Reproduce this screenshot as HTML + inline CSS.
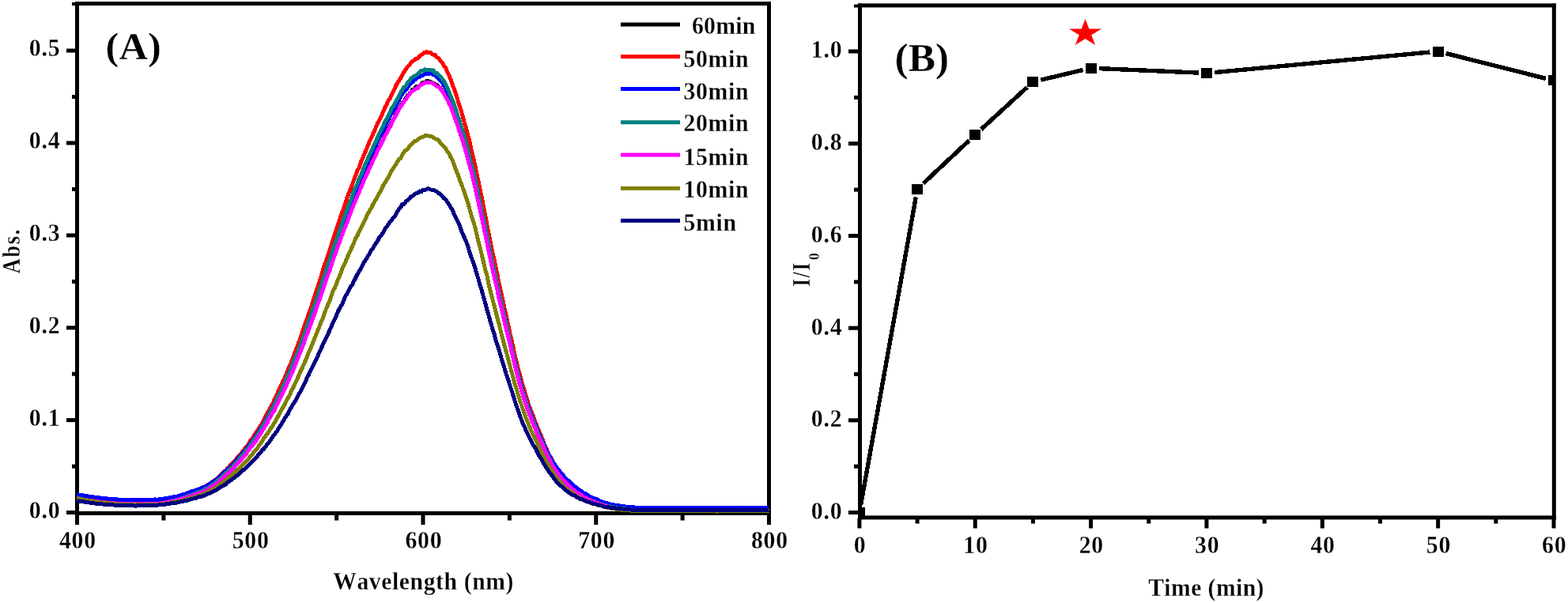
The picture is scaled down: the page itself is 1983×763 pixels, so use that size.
<!DOCTYPE html>
<html lang="en"><head><meta charset="utf-8"><title>Absorbance spectra and time course</title>
<style>
html,body{margin:0;padding:0;background:#fff;}
body{width:1983px;height:763px;overflow:hidden;font-family:'Liberation Serif',serif;}
svg text{font-family:'Liberation Serif',serif;font-kerning:none;stroke:#fff;stroke-width:0.3px;paint-order:fill stroke;}
</style></head>
<body>
<svg width="1983" height="763" viewBox="0 0 1983 763" style="display:block">
<rect x="0" y="0" width="1983" height="763" fill="#ffffff"/>
<g font-family="'Liberation Serif',serif" font-weight="bold" fill="#000">
<g fill="#000">
<rect x="95.00" y="2.10" width="880.00" height="4.90"/>
<rect x="95.00" y="646.90" width="880.00" height="5.00"/>
<rect x="95.00" y="2.10" width="5.00" height="649.80"/>
<rect x="970.00" y="2.10" width="5.00" height="649.80"/>
<rect x="84.00" y="646.00" width="12.00" height="5.00"/>
<rect x="84.00" y="529.11" width="12.00" height="5.00"/>
<rect x="84.00" y="412.22" width="12.00" height="5.00"/>
<rect x="84.00" y="295.33" width="12.00" height="5.00"/>
<rect x="84.00" y="178.44" width="12.00" height="5.00"/>
<rect x="84.00" y="61.55" width="12.00" height="5.00"/>
<rect x="91.00" y="587.55" width="5.00" height="5.00"/>
<rect x="91.00" y="470.66" width="5.00" height="5.00"/>
<rect x="91.00" y="353.77" width="5.00" height="5.00"/>
<rect x="91.00" y="236.88" width="5.00" height="5.00"/>
<rect x="91.00" y="119.99" width="5.00" height="5.00"/>
<rect x="91.00" y="3.00" width="5.00" height="4.00"/>
<rect x="95.00" y="650.00" width="5.00" height="14.00"/>
<rect x="313.75" y="650.00" width="5.00" height="14.00"/>
<rect x="532.50" y="650.00" width="5.00" height="14.00"/>
<rect x="751.25" y="650.00" width="5.00" height="14.00"/>
<rect x="970.00" y="650.00" width="5.00" height="14.00"/>
<rect x="204.38" y="650.00" width="5.00" height="8.50"/>
<rect x="423.12" y="650.00" width="5.00" height="8.50"/>
<rect x="641.88" y="650.00" width="5.00" height="8.50"/>
<rect x="860.62" y="650.00" width="5.00" height="8.50"/>
</g>
<g fill="none" stroke-width="5" stroke-linejoin="round" stroke-linecap="butt" shape-rendering="crispEdges">
<polyline stroke="#000000" points="97.5,630.2 99.7,630.4 101.9,630.9 104.1,631.3 106.2,631.6 108.4,632.1 110.6,632.5 112.8,632.6 115.0,633.3 117.2,633.5 119.4,633.7 121.6,634.0 123.8,634.4 125.9,634.5 128.1,634.8 130.3,634.9 132.5,635.4 134.7,635.5 136.9,635.7 139.1,635.6 141.2,636.3 143.4,636.2 145.6,636.3 147.8,636.8 150.0,636.6 152.2,636.5 154.4,636.7 156.6,636.5 158.8,637.1 160.9,636.9 163.1,636.9 165.3,637.2 167.5,636.8 169.7,637.2 171.9,636.8 174.1,637.0 176.2,636.9 178.4,637.3 180.6,637.3 182.8,637.0 185.0,637.1 187.2,636.9 189.4,636.9 191.6,636.6 193.8,636.3 195.9,636.1 198.1,636.3 200.3,636.4 202.5,635.8 204.7,635.4 206.9,635.6 209.1,635.0 211.2,634.6 213.4,634.2 215.6,633.8 217.8,633.3 220.0,632.6 222.2,632.5 224.4,631.8 226.6,631.5 228.8,630.6 230.9,629.7 233.1,629.3 235.3,629.0 237.5,627.9 239.7,627.1 241.9,626.3 244.1,625.6 246.2,625.0 248.4,624.1 250.6,623.9 252.8,622.7 255.0,621.9 257.2,621.2 259.4,620.2 261.6,618.7 263.8,617.6 265.9,616.4 268.1,614.8 270.3,612.9 272.5,611.9 274.7,610.3 276.9,608.4 279.1,606.3 281.2,604.6 283.4,602.5 285.6,600.6 287.8,599.0 290.0,596.9 292.2,594.5 294.4,592.3 296.6,590.0 298.8,587.5 300.9,585.1 303.1,582.5 305.3,580.2 307.5,578.4 309.7,575.3 311.9,572.3 314.1,569.5 316.2,566.5 318.4,564.0 320.6,561.0 322.8,557.3 325.0,554.7 327.2,551.1 329.4,548.4 331.6,544.5 333.8,541.5 335.9,537.2 338.1,533.5 340.3,529.9 342.5,526.2 344.7,522.0 346.9,517.3 349.1,513.6 351.2,509.3 353.4,504.7 355.6,500.2 357.8,496.5 360.0,491.1 362.2,486.1 364.4,481.9 366.6,476.7 368.8,471.6 370.9,466.8 373.1,461.5 375.3,456.1 377.5,450.9 379.7,445.1 381.9,439.1 384.1,433.5 386.2,427.6 388.4,422.0 390.6,415.5 392.8,409.1 395.0,403.8 397.2,397.0 399.4,390.5 401.6,385.4 403.8,378.6 405.9,372.9 408.1,366.1 410.3,359.5 412.5,353.1 414.7,347.1 416.9,341.0 419.1,334.4 421.2,328.4 423.4,321.6 425.6,316.2 427.8,309.1 430.0,303.9 432.2,298.3 434.4,292.5 436.6,287.0 438.8,279.5 440.9,275.0 443.1,269.6 445.3,263.9 447.5,257.4 449.7,252.8 451.9,248.3 454.1,241.2 456.2,237.2 458.4,232.4 460.6,226.4 462.8,222.2 465.0,216.4 467.2,211.8 469.4,207.0 471.6,202.9 473.8,198.1 475.9,194.1 478.1,188.5 480.3,184.5 482.5,180.7 484.7,176.1 486.9,170.7 489.1,167.5 491.2,162.6 493.4,158.8 495.6,154.5 497.8,150.9 500.0,146.1 502.2,140.9 504.4,137.3 506.6,134.8 508.8,130.6 510.9,128.1 513.1,124.5 515.3,121.0 517.5,119.5 519.7,116.1 521.9,113.2 524.1,113.9 526.2,109.7 528.4,109.7 530.6,108.4 532.8,106.6 535.0,104.2 537.2,105.0 539.4,102.8 541.6,102.6 543.8,103.3 545.9,104.6 548.1,105.2 550.3,106.7 552.5,107.5 554.7,109.6 556.9,111.3 559.1,114.4 561.2,118.0 563.4,121.0 565.6,125.5 567.8,129.4 570.0,134.4 572.2,140.1 574.4,145.7 576.6,152.3 578.8,158.4 580.9,165.8 583.1,171.4 585.3,178.4 587.5,185.1 589.7,193.2 591.9,201.4 594.1,208.7 596.2,217.5 598.4,226.7 600.6,235.4 602.8,244.7 605.0,255.4 607.2,265.1 609.4,275.5 611.6,286.3 613.8,296.8 615.9,306.5 618.1,316.8 620.3,327.5 622.5,337.4 624.7,346.5 626.9,357.8 629.1,366.8 631.2,376.8 633.4,385.4 635.6,396.0 637.8,404.5 640.0,414.2 642.2,423.0 644.4,432.9 646.6,442.2 648.8,451.4 650.9,460.6 653.1,469.2 655.3,478.0 657.5,485.5 659.7,493.0 661.9,500.6 664.1,507.7 666.2,514.4 668.4,520.4 670.6,525.3 672.8,531.7 675.0,537.5 677.2,542.3 679.4,547.3 681.6,552.7 683.8,557.5 685.9,562.9 688.1,567.6 690.3,572.8 692.5,577.1 694.7,581.1 696.9,585.6 699.1,589.6 701.2,592.9 703.4,596.4 705.6,599.1 707.8,603.0 710.0,605.4 712.2,607.6 714.4,610.2 716.6,612.8 718.8,615.2 720.9,617.0 723.1,619.0 725.3,620.4 727.5,622.0 729.7,624.1 731.9,625.4 734.1,626.6 736.2,628.2 738.4,628.9 740.6,630.1 742.8,631.5 745.0,632.6 747.2,633.2 749.4,634.4 751.6,634.8 753.8,635.8 755.9,636.5 758.1,637.0 760.3,638.0 762.5,638.8 764.7,639.2 766.9,639.8 769.1,640.6 771.2,640.7 773.4,641.1 775.6,641.7 777.8,642.0 780.0,642.8 782.2,643.0 784.4,643.1 786.6,643.4 788.8,644.2 790.9,643.9 793.1,644.1 795.3,644.5 797.5,644.8 799.7,644.9 801.9,644.9 804.1,645.0 806.2,645.4 808.4,645.4 810.6,645.2 812.8,645.6 815.0,645.6 817.2,645.5 819.4,645.5 821.6,645.5 823.8,645.4 825.9,645.3 828.1,645.5 830.3,645.3 832.5,645.5 834.7,645.3 836.9,645.5 839.1,645.5 841.2,645.7 843.4,645.4 845.6,645.3 847.8,645.4 850.0,645.4 852.2,645.4 854.4,645.6 856.6,645.6 858.8,645.7 860.9,645.4 863.1,645.8 865.3,645.7 867.5,645.5 869.7,645.2 871.9,645.5 874.1,645.5 876.2,645.2 878.4,645.5 880.6,645.5 882.8,645.4 885.0,645.6 887.2,645.6 889.4,645.4 891.6,645.5 893.8,645.4 895.9,645.4 898.1,645.5 900.3,645.6 902.5,645.4 904.7,645.2 906.9,645.6 909.1,645.3 911.2,645.5 913.4,645.7 915.6,645.5 917.8,645.4 920.0,645.3 922.2,645.6 924.4,645.5 926.6,645.6 928.8,645.6 930.9,645.5 933.1,645.5 935.3,645.4 937.5,645.1 939.7,645.3 941.9,645.5 944.1,645.5 946.2,645.5 948.4,645.5 950.6,645.5 952.8,645.6 955.0,645.4 957.2,645.5 959.4,645.3 961.6,645.6 963.8,645.5 965.9,645.6 968.1,645.7 970.3,645.6 972.5,645.5"/>
<polyline stroke="#ff0000" points="97.5,627.1 99.7,627.2 101.9,627.9 104.1,628.2 106.2,628.4 108.4,629.1 110.6,629.2 112.8,629.7 115.0,629.9 117.2,630.4 119.4,630.7 121.6,630.7 123.8,630.8 125.9,631.3 128.1,631.6 130.3,631.7 132.5,631.9 134.7,632.2 136.9,632.0 139.1,632.4 141.2,632.5 143.4,632.9 145.6,632.9 147.8,632.9 150.0,633.2 152.2,633.1 154.4,633.4 156.6,633.4 158.8,633.5 160.9,633.5 163.1,633.8 165.3,633.6 167.5,633.8 169.7,633.8 171.9,633.6 174.1,633.8 176.2,633.8 178.4,633.7 180.6,633.6 182.8,633.6 185.0,633.7 187.2,633.9 189.4,633.3 191.6,633.4 193.8,633.1 195.9,633.2 198.1,632.9 200.3,632.8 202.5,631.9 204.7,632.0 206.9,631.6 209.1,631.4 211.2,630.9 213.4,630.5 215.6,630.4 217.8,630.1 220.0,628.8 222.2,628.7 224.4,628.3 226.6,627.6 228.8,626.9 230.9,626.0 233.1,625.4 235.3,625.0 237.5,624.3 239.7,623.3 241.9,622.4 244.1,621.8 246.2,621.0 248.4,620.4 250.6,619.5 252.8,618.4 255.0,617.7 257.2,616.4 259.4,615.7 261.6,614.6 263.8,612.7 265.9,611.7 268.1,609.9 270.3,608.7 272.5,607.0 274.7,605.0 276.9,603.4 279.1,601.1 281.2,599.1 283.4,597.0 285.6,595.0 287.8,592.7 290.0,590.6 292.2,588.1 294.4,586.1 296.6,583.8 298.8,580.9 300.9,578.1 303.1,576.1 305.3,573.6 307.5,570.5 309.7,567.3 311.9,564.9 314.1,562.4 316.2,558.3 318.4,555.9 320.6,552.4 322.8,548.9 325.0,546.0 327.2,541.9 329.4,538.8 331.6,535.4 333.8,531.3 335.9,527.0 338.1,522.7 340.3,518.8 342.5,514.4 344.7,511.3 346.9,506.2 349.1,501.4 351.2,496.8 353.4,492.1 355.6,487.6 357.8,482.4 360.0,478.5 362.2,472.5 364.4,467.2 366.6,462.4 368.8,457.4 370.9,451.8 373.1,445.5 375.3,440.0 377.5,434.1 379.7,428.3 381.9,422.2 384.1,415.5 386.2,409.0 388.4,403.3 390.6,396.3 392.8,390.9 395.0,383.7 397.2,376.6 399.4,370.3 401.6,363.5 403.8,356.9 405.9,350.7 408.1,342.8 410.3,335.8 412.5,330.1 414.7,323.1 416.9,316.5 419.1,309.9 421.2,302.9 423.4,296.8 425.6,289.3 427.8,283.2 430.0,276.3 432.2,269.7 434.4,264.3 436.6,258.0 438.8,250.5 440.9,244.9 443.1,239.7 445.3,234.2 447.5,227.5 449.7,222.0 451.9,215.8 454.1,212.4 456.2,205.8 458.4,200.7 460.6,195.3 462.8,190.2 465.0,184.9 467.2,179.3 469.4,174.9 471.6,169.6 473.8,165.4 475.9,159.5 478.1,154.8 480.3,150.8 482.5,146.5 484.7,141.2 486.9,136.2 489.1,132.0 491.2,127.3 493.4,124.2 495.6,119.2 497.8,115.0 500.0,110.2 502.2,105.5 504.4,102.5 506.6,98.9 508.8,94.6 510.9,90.8 513.1,88.3 515.3,84.5 517.5,82.7 519.7,79.4 521.9,77.2 524.1,76.2 526.2,74.3 528.4,73.7 530.6,70.8 532.8,69.6 535.0,67.7 537.2,66.3 539.4,65.7 541.6,66.9 543.8,66.1 545.9,68.1 548.1,69.3 550.3,69.6 552.5,72.6 554.7,73.8 556.9,76.8 559.1,78.8 561.2,82.9 563.4,85.5 565.6,90.8 567.8,95.0 570.0,100.6 572.2,106.9 574.4,112.8 576.6,119.1 578.8,126.4 580.9,133.4 583.1,139.3 585.3,147.9 587.5,155.7 589.7,162.9 591.9,171.9 594.1,179.5 596.2,190.1 598.4,198.6 600.6,208.5 602.8,219.4 605.0,229.2 607.2,240.4 609.4,250.5 611.6,261.9 613.8,272.6 615.9,284.4 618.1,296.0 620.3,306.5 622.5,317.6 624.7,327.2 626.9,337.7 629.1,348.1 631.2,358.8 633.4,368.8 635.6,378.7 637.8,389.0 640.0,398.7 642.2,408.7 644.4,419.3 646.6,428.4 648.8,438.4 650.9,448.5 653.1,457.2 655.3,466.3 657.5,474.4 659.7,483.5 661.9,489.5 664.1,497.2 666.2,504.0 668.4,511.5 670.6,517.2 672.8,522.9 675.0,528.4 677.2,534.5 679.4,540.0 681.6,545.1 683.8,550.3 685.9,555.7 688.1,561.3 690.3,566.4 692.5,571.2 694.7,575.7 696.9,579.7 699.1,584.3 701.2,587.9 703.4,591.8 705.6,595.3 707.8,598.2 710.0,601.1 712.2,604.4 714.4,606.8 716.6,609.0 718.8,610.6 720.9,613.5 723.1,615.6 725.3,617.6 727.5,618.9 729.7,620.5 731.9,622.1 734.1,623.8 736.2,624.7 738.4,626.2 740.6,627.2 742.8,628.5 745.0,629.2 747.2,630.6 749.4,631.4 751.6,632.3 753.8,633.3 755.9,634.3 758.1,634.5 760.3,635.7 762.5,636.4 764.7,636.9 766.9,637.8 769.1,638.1 771.2,638.9 773.4,639.1 775.6,639.5 777.8,640.2 780.0,640.8 782.2,640.9 784.4,641.3 786.6,641.3 788.8,641.5 790.9,641.9 793.1,642.4 795.3,642.2 797.5,642.6 799.7,642.6 801.9,643.1 804.1,643.3 806.2,643.1 808.4,643.3 810.6,643.6 812.8,643.5 815.0,643.3 817.2,643.3 819.4,643.3 821.6,643.6 823.8,643.4 825.9,643.6 828.1,643.6 830.3,643.4 832.5,643.4 834.7,643.6 836.9,643.5 839.1,643.5 841.2,643.3 843.4,643.6 845.6,643.4 847.8,643.2 850.0,643.4 852.2,643.5 854.4,643.8 856.6,643.5 858.8,643.3 860.9,643.8 863.1,643.5 865.3,643.5 867.5,643.4 869.7,643.4 871.9,643.7 874.1,643.5 876.2,643.4 878.4,643.4 880.6,643.7 882.8,643.4 885.0,643.6 887.2,643.5 889.4,643.5 891.6,643.4 893.8,643.6 895.9,643.7 898.1,643.5 900.3,643.4 902.5,643.3 904.7,643.5 906.9,643.5 909.1,643.5 911.2,643.5 913.4,643.3 915.6,643.6 917.8,643.5 920.0,643.5 922.2,643.5 924.4,643.6 926.6,643.5 928.8,643.4 930.9,643.6 933.1,643.4 935.3,643.4 937.5,643.3 939.7,643.5 941.9,643.4 944.1,643.4 946.2,643.6 948.4,643.5 950.6,643.6 952.8,643.5 955.0,643.5 957.2,643.5 959.4,643.4 961.6,643.6 963.8,643.5 965.9,643.5 968.1,643.6 970.3,643.5 972.5,643.4"/>
<polyline stroke="#0000ff" points="97.5,625.3 99.7,626.0 101.9,626.4 104.1,626.7 106.2,627.1 108.4,627.4 110.6,627.8 112.8,628.2 115.0,628.5 117.2,628.8 119.4,629.1 121.6,629.5 123.8,629.7 125.9,629.9 128.1,630.3 130.3,630.6 132.5,630.8 134.7,630.9 136.9,631.1 139.1,631.1 141.2,631.6 143.4,631.3 145.6,631.7 147.8,631.9 150.0,632.2 152.2,632.2 154.4,632.1 156.6,632.1 158.8,632.3 160.9,632.5 163.1,632.5 165.3,632.5 167.5,632.5 169.7,632.6 171.9,632.8 174.1,632.5 176.2,632.7 178.4,633.0 180.6,632.8 182.8,632.6 185.0,632.7 187.2,632.4 189.4,632.5 191.6,632.7 193.8,632.6 195.9,631.9 198.1,632.1 200.3,632.1 202.5,631.5 204.7,631.3 206.9,631.3 209.1,630.6 211.2,630.4 213.4,630.0 215.6,629.2 217.8,629.2 220.0,628.6 222.2,628.4 224.4,628.1 226.6,627.2 228.8,626.4 230.9,625.9 233.1,625.2 235.3,624.7 237.5,623.5 239.7,622.8 241.9,621.9 244.1,621.8 246.2,620.9 248.4,620.0 250.6,619.2 252.8,618.4 255.0,617.5 257.2,616.6 259.4,615.6 261.6,614.8 263.8,613.4 265.9,611.8 268.1,610.4 270.3,609.3 272.5,607.5 274.7,605.8 276.9,604.1 279.1,602.5 281.2,599.9 283.4,598.0 285.6,595.7 287.8,594.2 290.0,591.9 292.2,589.6 294.4,587.3 296.6,585.4 298.8,582.8 300.9,580.3 303.1,578.4 305.3,575.2 307.5,572.5 309.7,571.0 311.9,567.4 314.1,564.5 316.2,561.5 318.4,558.8 320.6,556.0 322.8,552.8 325.0,549.5 327.2,545.9 329.4,542.1 331.6,539.2 333.8,536.0 335.9,532.1 338.1,527.9 340.3,524.4 342.5,519.9 344.7,516.0 346.9,511.4 349.1,507.4 351.2,503.2 353.4,498.6 355.6,494.4 357.8,490.2 360.0,485.2 362.2,479.8 364.4,474.6 366.6,469.6 368.8,464.3 370.9,459.5 373.1,454.3 375.3,448.7 377.5,443.2 379.7,437.5 381.9,431.6 384.1,425.5 386.2,420.6 388.4,414.3 390.6,407.3 392.8,401.1 395.0,395.0 397.2,389.0 399.4,383.2 401.6,376.7 403.8,370.3 405.9,363.9 408.1,357.5 410.3,350.9 412.5,344.3 414.7,337.6 416.9,330.4 419.1,324.8 421.2,319.4 423.4,311.9 425.6,305.6 427.8,300.2 430.0,293.5 432.2,287.1 434.4,282.2 436.6,275.7 438.8,269.9 440.9,263.4 443.1,258.3 445.3,252.6 447.5,247.3 449.7,242.1 451.9,236.7 454.1,231.0 456.2,226.0 458.4,219.9 460.6,215.9 462.8,210.9 465.0,205.4 467.2,200.4 469.4,196.0 471.6,190.6 473.8,186.9 475.9,182.2 478.1,177.0 480.3,173.1 482.5,169.2 484.7,164.8 486.9,160.4 489.1,155.4 491.2,151.0 493.4,146.7 495.6,143.0 497.8,139.9 500.0,135.2 502.2,131.3 504.4,127.3 506.6,121.8 508.8,119.1 510.9,115.7 513.1,113.7 515.3,111.2 517.5,107.3 519.7,105.5 521.9,103.8 524.1,101.3 526.2,99.5 528.4,97.9 530.6,97.4 532.8,95.0 535.0,95.1 537.2,93.6 539.4,93.4 541.6,93.7 543.8,92.5 545.9,93.0 548.1,94.7 550.3,95.1 552.5,97.0 554.7,99.3 556.9,101.8 559.1,103.7 561.2,107.4 563.4,111.6 565.6,116.2 567.8,118.9 570.0,126.0 572.2,131.2 574.4,135.9 576.6,141.9 578.8,149.5 580.9,155.7 583.1,162.9 585.3,170.4 587.5,177.0 589.7,185.0 591.9,193.1 594.1,201.6 596.2,210.6 598.4,219.6 600.6,228.1 602.8,237.6 605.0,249.0 607.2,258.4 609.4,268.7 611.6,278.5 613.8,290.1 615.9,299.9 618.1,310.6 620.3,320.6 622.5,331.2 624.7,341.6 626.9,350.7 629.1,360.8 631.2,370.9 633.4,380.0 635.6,389.6 637.8,399.3 640.0,408.6 642.2,419.1 644.4,427.9 646.6,438.0 648.8,447.4 650.9,455.6 653.1,464.9 655.3,473.2 657.5,481.1 659.7,489.1 661.9,496.4 664.1,503.7 666.2,510.3 668.4,515.6 670.6,521.8 672.8,527.7 675.0,533.4 677.2,537.4 679.4,543.9 681.6,548.5 683.8,554.1 685.9,558.4 688.1,563.1 690.3,568.0 692.5,572.7 694.7,576.6 696.9,579.9 699.1,584.5 701.2,587.3 703.4,590.7 705.6,593.7 707.8,596.3 710.0,599.1 712.2,601.6 714.4,604.0 716.6,606.3 718.8,608.3 720.9,610.0 723.1,612.3 725.3,614.3 727.5,616.1 729.7,617.5 731.9,619.2 734.1,620.8 736.2,622.4 738.4,623.9 740.6,624.8 742.8,626.1 745.0,627.7 747.2,628.9 749.4,630.0 751.6,630.3 753.8,631.7 755.9,632.1 758.1,633.7 760.3,634.4 762.5,635.2 764.7,635.9 766.9,636.8 769.1,637.1 771.2,637.9 773.4,638.3 775.6,638.8 777.8,639.2 780.0,639.5 782.2,639.7 784.4,640.3 786.6,640.6 788.8,640.7 790.9,641.1 793.1,641.4 795.3,641.3 797.5,641.7 799.7,641.8 801.9,641.9 804.1,642.2 806.2,642.2 808.4,642.3 810.6,642.5 812.8,642.5 815.0,642.5 817.2,642.8 819.4,642.4 821.6,642.5 823.8,642.4 825.9,642.6 828.1,642.6 830.3,642.6 832.5,642.4 834.7,642.5 836.9,642.6 839.1,642.5 841.2,642.6 843.4,642.4 845.6,642.7 847.8,642.6 850.0,642.6 852.2,642.4 854.4,642.5 856.6,642.5 858.8,642.5 860.9,642.5 863.1,642.5 865.3,642.5 867.5,642.7 869.7,642.3 871.9,642.3 874.1,642.3 876.2,642.4 878.4,642.3 880.6,642.6 882.8,642.5 885.0,642.5 887.2,642.4 889.4,642.5 891.6,642.5 893.8,642.5 895.9,642.4 898.1,642.6 900.3,642.3 902.5,642.6 904.7,642.1 906.9,642.4 909.1,642.4 911.2,642.6 913.4,642.3 915.6,642.7 917.8,642.3 920.0,642.7 922.2,642.6 924.4,642.5 926.6,642.6 928.8,642.8 930.9,642.6 933.1,642.2 935.3,642.6 937.5,642.5 939.7,642.3 941.9,642.6 944.1,642.4 946.2,642.5 948.4,642.5 950.6,642.4 952.8,642.6 955.0,642.4 957.2,642.5 959.4,642.4 961.6,642.5 963.8,642.7 965.9,642.5 968.1,642.4 970.3,642.5 972.5,642.4"/>
<polyline stroke="#008080" points="97.5,629.5 99.7,630.3 101.9,631.0 104.1,631.7 106.2,632.2 108.4,632.9 110.6,633.6 112.8,633.9 115.0,634.4 117.2,634.9 119.4,635.5 121.6,635.8 123.8,636.0 125.9,636.4 128.1,636.5 130.3,636.9 132.5,637.3 134.7,637.6 136.9,637.9 139.1,637.9 141.2,637.9 143.4,638.3 145.6,638.4 147.8,638.6 150.0,638.7 152.2,638.8 154.4,638.9 156.6,639.0 158.8,638.8 160.9,639.1 163.1,638.8 165.3,638.9 167.5,639.2 169.7,638.9 171.9,638.7 174.1,639.0 176.2,638.9 178.4,638.9 180.6,638.6 182.8,638.6 185.0,638.4 187.2,638.2 189.4,638.4 191.6,637.9 193.8,637.7 195.9,637.5 198.1,637.7 200.3,637.2 202.5,636.7 204.7,636.4 206.9,636.2 209.1,635.8 211.2,635.0 213.4,635.0 215.6,634.3 217.8,633.7 220.0,633.3 222.2,632.9 224.4,632.5 226.6,631.6 228.8,631.0 230.9,630.0 233.1,629.5 235.3,628.8 237.5,627.6 239.7,627.0 241.9,626.5 244.1,625.2 246.2,624.7 248.4,624.1 250.6,622.7 252.8,622.1 255.0,621.3 257.2,620.4 259.4,618.8 261.6,618.2 263.8,616.7 265.9,615.5 268.1,614.0 270.3,612.2 272.5,610.6 274.7,608.3 276.9,606.5 279.1,604.7 281.2,602.9 283.4,601.2 285.6,598.4 287.8,596.6 290.0,594.2 292.2,591.8 294.4,590.3 296.6,587.6 298.8,585.6 300.9,583.0 303.1,579.9 305.3,577.0 307.5,575.5 309.7,572.0 311.9,569.0 314.1,566.7 316.2,563.6 318.4,560.3 320.6,557.2 322.8,554.2 325.0,550.8 327.2,547.7 329.4,543.8 331.6,540.2 333.8,536.9 335.9,533.0 338.1,529.4 340.3,524.9 342.5,520.9 344.7,516.4 346.9,513.1 349.1,507.6 351.2,503.8 353.4,498.8 355.6,494.6 357.8,490.0 360.0,484.3 362.2,479.9 364.4,474.2 366.6,470.3 368.8,464.4 370.9,458.6 373.1,453.5 375.3,448.7 377.5,443.2 379.7,437.3 381.9,430.5 384.1,424.8 386.2,419.6 388.4,412.4 390.6,406.3 392.8,399.7 395.0,393.3 397.2,388.0 399.4,381.3 401.6,374.7 403.8,368.2 405.9,361.9 408.1,355.6 410.3,348.3 412.5,341.6 414.7,334.7 416.9,329.3 419.1,322.0 421.2,315.0 423.4,309.2 425.6,303.0 427.8,297.1 430.0,290.9 432.2,283.8 434.4,277.6 436.6,271.8 438.8,265.4 440.9,260.1 443.1,254.6 445.3,248.7 447.5,242.2 449.7,237.0 451.9,232.9 454.1,226.3 456.2,222.0 458.4,216.8 460.6,211.1 462.8,205.7 465.0,201.4 467.2,195.9 469.4,191.5 471.6,186.9 473.8,181.7 475.9,177.4 478.1,172.7 480.3,167.6 482.5,163.7 484.7,159.0 486.9,153.9 489.1,150.4 491.2,146.1 493.4,141.6 495.6,136.5 497.8,133.9 500.0,129.7 502.2,125.7 504.4,121.6 506.6,116.9 508.8,114.2 510.9,110.3 513.1,109.2 515.3,104.7 517.5,103.0 519.7,99.4 521.9,97.6 524.1,96.2 526.2,95.3 528.4,93.6 530.6,92.0 532.8,89.4 535.0,90.1 537.2,87.9 539.4,88.9 541.6,88.9 543.8,88.4 545.9,89.2 548.1,88.8 550.3,92.5 552.5,92.7 554.7,95.2 556.9,96.5 559.1,99.7 561.2,102.3 563.4,106.6 565.6,111.0 567.8,115.9 570.0,121.7 572.2,126.8 574.4,132.6 576.6,138.8 578.8,146.6 580.9,151.8 583.1,159.8 585.3,165.2 587.5,173.3 589.7,181.8 591.9,189.5 594.1,199.7 596.2,208.2 598.4,215.0 600.6,224.7 602.8,235.1 605.0,246.3 607.2,256.4 609.4,266.6 611.6,276.4 613.8,287.5 615.9,297.3 618.1,308.6 620.3,320.2 622.5,330.7 624.7,339.9 626.9,350.6 629.1,361.3 631.2,370.4 633.4,379.9 635.6,390.1 637.8,399.7 640.0,409.2 642.2,418.6 644.4,428.3 646.6,438.1 648.8,447.2 650.9,457.2 653.1,465.9 655.3,474.6 657.5,483.3 659.7,490.9 661.9,498.2 664.1,504.8 666.2,511.2 668.4,518.4 670.6,523.3 672.8,529.0 675.0,534.5 677.2,540.3 679.4,545.7 681.6,551.2 683.8,556.0 685.9,560.6 688.1,566.3 690.3,571.4 692.5,575.7 694.7,580.1 696.9,584.6 699.1,588.8 701.2,592.2 703.4,595.3 705.6,598.8 707.8,602.0 710.0,604.4 712.2,607.8 714.4,609.9 716.6,612.5 718.8,614.6 720.9,616.5 723.1,618.9 725.3,620.2 727.5,621.9 729.7,623.6 731.9,625.2 734.1,626.4 736.2,627.5 738.4,629.0 740.6,630.1 742.8,631.5 745.0,632.1 747.2,633.1 749.4,633.9 751.6,634.6 753.8,635.7 755.9,636.6 758.1,637.0 760.3,637.8 762.5,638.4 764.7,639.5 766.9,639.7 769.1,640.5 771.2,640.8 773.4,641.4 775.6,641.8 777.8,641.9 780.0,642.7 782.2,643.1 784.4,643.0 786.6,643.6 788.8,643.8 790.9,643.9 793.1,644.3 795.3,644.3 797.5,644.8 799.7,645.1 801.9,645.0 804.1,645.3 806.2,645.6 808.4,645.5 810.6,645.5 812.8,645.5 815.0,645.6 817.2,645.6 819.4,645.7 821.6,645.4 823.8,645.7 825.9,645.6 828.1,645.7 830.3,645.5 832.5,645.4 834.7,645.5 836.9,645.5 839.1,645.6 841.2,645.7 843.4,645.7 845.6,645.6 847.8,645.5 850.0,645.5 852.2,645.7 854.4,645.7 856.6,645.6 858.8,645.6 860.9,645.5 863.1,645.6 865.3,645.7 867.5,645.3 869.7,645.6 871.9,645.5 874.1,645.3 876.2,645.6 878.4,645.6 880.6,645.6 882.8,645.4 885.0,645.9 887.2,645.6 889.4,645.6 891.6,645.8 893.8,645.7 895.9,645.7 898.1,645.7 900.3,645.4 902.5,645.8 904.7,645.6 906.9,645.6 909.1,645.7 911.2,645.5 913.4,645.6 915.6,645.7 917.8,645.6 920.0,645.7 922.2,645.4 924.4,645.5 926.6,645.5 928.8,645.6 930.9,646.0 933.1,645.6 935.3,645.6 937.5,645.6 939.7,645.7 941.9,645.7 944.1,645.5 946.2,645.7 948.4,645.6 950.6,645.7 952.8,645.4 955.0,645.4 957.2,645.7 959.4,645.4 961.6,645.6 963.8,645.6 965.9,645.6 968.1,645.6 970.3,645.6 972.5,645.7"/>
<polyline stroke="#ff00ff" points="97.5,630.4 99.7,631.0 101.9,631.8 104.1,632.0 106.2,632.3 108.4,632.7 110.6,633.0 112.8,633.4 115.0,633.7 117.2,634.2 119.4,634.3 121.6,634.4 123.8,634.9 125.9,635.4 128.1,635.9 130.3,635.9 132.5,635.9 134.7,636.2 136.9,636.3 139.1,636.6 141.2,636.7 143.4,636.7 145.6,637.2 147.8,637.3 150.0,637.4 152.2,637.6 154.4,637.9 156.6,637.7 158.8,637.7 160.9,637.9 163.1,637.6 165.3,638.0 167.5,637.8 169.7,637.8 171.9,638.0 174.1,638.3 176.2,637.9 178.4,638.1 180.6,638.0 182.8,637.7 185.0,638.0 187.2,637.7 189.4,637.5 191.6,637.5 193.8,637.4 195.9,637.5 198.1,637.1 200.3,637.3 202.5,636.8 204.7,636.4 206.9,636.1 209.1,635.9 211.2,635.2 213.4,634.8 215.6,634.6 217.8,634.5 220.0,633.9 222.2,633.4 224.4,632.8 226.6,631.9 228.8,631.6 230.9,630.7 233.1,630.5 235.3,629.7 237.5,628.9 239.7,628.3 241.9,627.6 244.1,626.9 246.2,626.2 248.4,625.2 250.6,624.3 252.8,623.9 255.0,623.2 257.2,622.2 259.4,620.9 261.6,619.9 263.8,618.5 265.9,617.3 268.1,615.7 270.3,614.4 272.5,613.2 274.7,611.3 276.9,609.7 279.1,607.3 281.2,605.5 283.4,603.7 285.6,601.9 287.8,599.6 290.0,597.8 292.2,595.2 294.4,593.5 296.6,591.2 298.8,588.3 300.9,586.4 303.1,583.7 305.3,581.6 307.5,578.6 309.7,576.2 311.9,573.6 314.1,569.8 316.2,567.2 318.4,564.9 320.6,561.8 322.8,559.1 325.0,555.7 327.2,551.9 329.4,549.1 331.6,545.3 333.8,541.9 335.9,538.2 338.1,534.8 340.3,530.3 342.5,526.5 344.7,522.1 346.9,519.6 349.1,514.2 351.2,510.0 353.4,505.5 355.6,501.2 357.8,496.7 360.0,492.5 362.2,487.6 364.4,482.8 366.6,477.5 368.8,472.7 370.9,468.0 373.1,462.3 375.3,457.1 377.5,450.7 379.7,446.2 381.9,440.5 384.1,435.2 386.2,427.6 388.4,422.9 390.6,416.9 392.8,410.9 395.0,404.5 397.2,398.7 399.4,392.7 401.6,386.2 403.8,379.8 405.9,373.5 408.1,367.1 410.3,361.0 412.5,354.3 414.7,347.4 416.9,342.7 419.1,334.9 421.2,329.5 423.4,322.6 425.6,317.0 427.8,310.5 430.0,304.9 432.2,298.4 434.4,292.2 436.6,287.2 438.8,281.9 440.9,275.7 443.1,269.9 445.3,263.8 447.5,258.8 449.7,253.7 451.9,247.8 454.1,243.5 456.2,237.8 458.4,232.9 460.6,227.5 462.8,222.5 465.0,218.1 467.2,213.3 469.4,208.6 471.6,203.1 473.8,198.7 475.9,194.5 478.1,188.9 480.3,186.1 482.5,181.3 484.7,176.7 486.9,171.9 489.1,168.5 491.2,163.6 493.4,160.6 495.6,155.5 497.8,150.2 500.0,147.4 502.2,142.6 504.4,138.7 506.6,135.1 508.8,131.6 510.9,128.4 513.1,125.6 515.3,122.6 517.5,119.3 519.7,116.6 521.9,114.9 524.1,113.7 526.2,112.3 528.4,111.3 530.6,107.9 532.8,107.4 535.0,106.0 537.2,104.9 539.4,104.6 541.6,104.1 543.8,104.2 545.9,104.5 548.1,106.1 550.3,107.7 552.5,109.7 554.7,110.2 556.9,112.2 559.1,115.3 561.2,118.0 563.4,122.7 565.6,125.6 567.8,130.6 570.0,134.8 572.2,140.8 574.4,146.8 576.6,153.7 578.8,158.7 580.9,165.9 583.1,171.2 585.3,178.7 587.5,186.2 589.7,193.8 591.9,202.2 594.1,210.4 596.2,217.5 598.4,227.5 600.6,235.8 602.8,247.0 605.0,256.0 607.2,266.0 609.4,276.1 611.6,286.6 613.8,297.1 615.9,307.3 618.1,318.4 620.3,328.4 622.5,338.8 624.7,348.3 626.9,358.5 629.1,367.4 631.2,379.1 633.4,386.6 635.6,396.1 637.8,406.2 640.0,415.7 642.2,424.3 644.4,433.3 646.6,442.7 648.8,452.1 650.9,461.1 653.1,470.1 655.3,479.0 657.5,487.2 659.7,494.2 661.9,501.9 664.1,508.8 666.2,515.5 668.4,521.0 670.6,526.6 672.8,532.8 675.0,538.4 677.2,543.0 679.4,549.0 681.6,554.0 683.8,558.3 685.9,562.8 688.1,568.0 690.3,572.7 692.5,577.5 694.7,581.1 696.9,586.3 699.1,590.0 701.2,592.7 703.4,595.8 705.6,599.3 707.8,602.4 710.0,605.3 712.2,607.6 714.4,609.8 716.6,611.6 718.8,614.2 720.9,616.3 723.1,617.9 725.3,619.8 727.5,621.5 729.7,623.0 731.9,624.4 734.1,626.1 736.2,627.1 738.4,629.0 740.6,629.8 742.8,631.3 745.0,632.2 747.2,633.4 749.4,634.4 751.6,635.5 753.8,636.1 755.9,636.8 758.1,637.9 760.3,638.7 762.5,639.2 764.7,640.0 766.9,640.5 769.1,641.4 771.2,641.8 773.4,642.4 775.6,643.3 777.8,643.3 780.0,643.7 782.2,644.1 784.4,644.3 786.6,644.5 788.8,645.0 790.9,645.2 793.1,644.9 795.3,645.5 797.5,645.7 799.7,645.9 801.9,646.3 804.1,646.2 806.2,646.5 808.4,646.4 810.6,646.5 812.8,646.6 815.0,646.5 817.2,646.6 819.4,646.5 821.6,646.5 823.8,646.7 825.9,646.7 828.1,646.5 830.3,646.4 832.5,646.9 834.7,646.5 836.9,646.5 839.1,646.7 841.2,646.5 843.4,646.5 845.6,646.7 847.8,646.7 850.0,646.6 852.2,646.8 854.4,646.6 856.6,646.6 858.8,646.6 860.9,646.6 863.1,646.7 865.3,646.6 867.5,646.5 869.7,646.6 871.9,646.5 874.1,646.5 876.2,646.6 878.4,646.7 880.6,646.6 882.8,646.7 885.0,646.8 887.2,646.6 889.4,646.5 891.6,646.5 893.8,646.6 895.9,646.7 898.1,646.8 900.3,646.4 902.5,646.7 904.7,646.7 906.9,646.9 909.1,646.6 911.2,646.6 913.4,646.4 915.6,646.5 917.8,646.5 920.0,646.5 922.2,646.5 924.4,646.4 926.6,646.6 928.8,646.6 930.9,646.7 933.1,646.6 935.3,646.7 937.5,646.7 939.7,646.4 941.9,646.6 944.1,646.4 946.2,646.5 948.4,646.6 950.6,646.6 952.8,646.8 955.0,646.8 957.2,646.6 959.4,646.6 961.6,646.6 963.8,646.6 965.9,646.7 968.1,646.5 970.3,646.7 972.5,646.6"/>
<polyline stroke="#808000" points="97.5,630.6 99.7,631.2 101.9,631.7 104.1,632.0 106.2,632.3 108.4,632.7 110.6,633.3 112.8,633.5 115.0,633.9 117.2,634.4 119.4,634.7 121.6,635.2 123.8,635.7 125.9,635.7 128.1,636.1 130.3,636.1 132.5,636.6 134.7,636.7 136.9,636.9 139.1,637.0 141.2,637.7 143.4,637.4 145.6,637.6 147.8,638.0 150.0,638.2 152.2,638.3 154.4,638.4 156.6,638.3 158.8,638.7 160.9,638.7 163.1,638.5 165.3,639.0 167.5,638.8 169.7,639.0 171.9,638.7 174.1,638.8 176.2,638.9 178.4,638.9 180.6,639.2 182.8,638.7 185.0,639.0 187.2,638.8 189.4,639.0 191.6,638.8 193.8,638.6 195.9,639.0 198.1,638.4 200.3,638.5 202.5,637.9 204.7,637.8 206.9,637.6 209.1,637.4 211.2,637.0 213.4,636.6 215.6,635.8 217.8,635.9 220.0,635.5 222.2,635.2 224.4,634.9 226.6,634.7 228.8,633.8 230.9,633.4 233.1,632.7 235.3,632.1 237.5,631.5 239.7,630.7 241.9,630.1 244.1,629.6 246.2,629.3 248.4,628.4 250.6,627.9 252.8,626.6 255.0,626.1 257.2,625.3 259.4,624.5 261.6,623.1 263.8,621.9 265.9,620.6 268.1,619.8 270.3,619.2 272.5,617.3 274.7,615.5 276.9,614.3 279.1,612.6 281.2,611.0 283.4,609.2 285.6,607.2 287.8,605.6 290.0,604.1 292.2,602.1 294.4,600.4 296.6,597.8 298.8,596.3 300.9,594.0 303.1,591.9 305.3,590.0 307.5,587.4 309.7,585.2 311.9,583.0 314.1,580.6 316.2,578.1 318.4,575.7 320.6,572.8 322.8,569.8 325.0,568.0 327.2,564.3 329.4,561.5 331.6,558.1 333.8,554.5 335.9,551.8 338.1,548.8 340.3,545.7 342.5,542.0 344.7,538.8 346.9,535.3 349.1,531.6 351.2,527.5 353.4,523.7 355.6,519.7 357.8,515.4 360.0,512.2 362.2,507.0 364.4,503.3 366.6,499.1 368.8,493.7 370.9,490.4 373.1,485.3 375.3,480.9 377.5,475.9 379.7,470.5 381.9,466.3 384.1,461.3 386.2,456.6 388.4,451.2 390.6,445.0 392.8,440.9 395.0,435.5 397.2,430.0 399.4,424.5 401.6,418.5 403.8,413.6 405.9,407.6 408.1,403.6 410.3,396.6 412.5,390.7 414.7,385.5 416.9,380.9 419.1,374.4 421.2,368.0 423.4,364.5 425.6,358.5 427.8,352.7 430.0,348.0 432.2,341.9 434.4,336.5 436.6,332.5 438.8,326.6 440.9,322.2 443.1,317.0 445.3,312.5 447.5,307.4 449.7,301.5 451.9,298.3 454.1,293.1 456.2,289.4 458.4,284.5 460.6,280.8 462.8,275.6 465.0,270.3 467.2,267.1 469.4,263.4 471.6,258.8 473.8,254.7 475.9,251.8 478.1,246.9 480.3,243.7 482.5,239.3 484.7,234.5 486.9,231.0 489.1,227.6 491.2,224.2 493.4,219.8 495.6,215.7 497.8,212.3 500.0,209.0 502.2,205.2 504.4,202.0 506.6,200.2 508.8,196.1 510.9,192.5 513.1,190.2 515.3,188.7 517.5,185.9 519.7,183.4 521.9,180.8 524.1,178.9 526.2,178.3 528.4,177.0 530.6,174.8 532.8,173.8 535.0,173.5 537.2,171.4 539.4,171.1 541.6,171.9 543.8,172.4 545.9,172.7 548.1,173.9 550.3,175.4 552.5,176.3 554.7,177.3 556.9,180.7 559.1,182.8 561.2,185.0 563.4,187.0 565.6,191.3 567.8,193.7 570.0,199.2 572.2,202.6 574.4,208.9 576.6,215.0 578.8,220.0 580.9,226.7 583.1,231.6 585.3,237.8 587.5,243.9 589.7,250.9 591.9,257.4 594.1,265.2 596.2,272.8 598.4,279.8 600.6,287.0 602.8,296.3 605.0,305.4 607.2,313.8 609.4,322.7 611.6,332.1 613.8,341.5 615.9,348.7 618.1,359.9 620.3,368.5 622.5,377.2 624.7,385.4 626.9,394.4 629.1,403.0 631.2,410.4 633.4,419.8 635.6,427.7 637.8,436.6 640.0,444.5 642.2,452.4 644.4,460.7 646.6,469.1 648.8,476.9 650.9,484.9 653.1,492.1 655.3,499.3 657.5,506.6 659.7,513.0 661.9,519.6 664.1,526.1 666.2,531.0 668.4,536.5 670.6,542.3 672.8,546.8 675.0,551.7 677.2,556.0 679.4,560.6 681.6,565.3 683.8,570.4 685.9,574.4 688.1,578.0 690.3,582.9 692.5,587.0 694.7,590.8 696.9,593.8 699.1,597.6 701.2,601.4 703.4,603.6 705.6,606.8 707.8,609.1 710.0,611.5 712.2,614.0 714.4,616.5 716.6,618.5 718.8,619.9 720.9,621.7 723.1,623.3 725.3,624.6 727.5,626.7 729.7,628.2 731.9,629.4 734.1,630.2 736.2,631.7 738.4,632.7 740.6,633.3 742.8,634.3 745.0,635.1 747.2,636.1 749.4,637.2 751.6,637.4 753.8,638.1 755.9,639.1 758.1,639.6 760.3,639.9 762.5,640.6 764.7,641.2 766.9,641.7 769.1,642.4 771.2,642.9 773.4,643.2 775.6,643.6 777.8,643.8 780.0,644.4 782.2,644.8 784.4,644.8 786.6,645.0 788.8,645.6 790.9,645.6 793.1,645.6 795.3,645.7 797.5,646.1 799.7,646.4 801.9,646.3 804.1,646.5 806.2,646.6 808.4,646.8 810.6,646.9 812.8,646.6 815.0,646.8 817.2,646.8 819.4,646.7 821.6,646.7 823.8,646.9 825.9,646.8 828.1,646.9 830.3,647.0 832.5,646.8 834.7,646.9 836.9,646.8 839.1,646.8 841.2,646.9 843.4,646.8 845.6,646.6 847.8,647.0 850.0,646.8 852.2,646.7 854.4,646.5 856.6,646.8 858.8,646.9 860.9,646.9 863.1,646.9 865.3,646.8 867.5,646.9 869.7,646.6 871.9,646.8 874.1,646.9 876.2,646.7 878.4,646.8 880.6,646.8 882.8,646.8 885.0,647.0 887.2,646.7 889.4,647.0 891.6,646.7 893.8,646.7 895.9,646.7 898.1,646.8 900.3,646.8 902.5,646.9 904.7,646.8 906.9,647.1 909.1,646.9 911.2,646.8 913.4,646.9 915.6,646.9 917.8,646.8 920.0,646.7 922.2,646.7 924.4,646.8 926.6,646.9 928.8,646.9 930.9,646.8 933.1,646.9 935.3,646.8 937.5,646.8 939.7,647.0 941.9,646.9 944.1,647.0 946.2,646.8 948.4,646.8 950.6,646.7 952.8,646.9 955.0,646.8 957.2,646.7 959.4,646.8 961.6,646.8 963.8,646.5 965.9,646.6 968.1,646.9 970.3,646.8 972.5,646.8"/>
<polyline stroke="#000080" points="97.5,633.3 99.7,634.1 101.9,634.4 104.1,634.8 106.2,634.9 108.4,635.5 110.6,635.9 112.8,636.0 115.0,636.3 117.2,636.5 119.4,637.0 121.6,637.1 123.8,637.3 125.9,637.4 128.1,637.6 130.3,638.1 132.5,638.4 134.7,638.5 136.9,638.7 139.1,638.6 141.2,638.8 143.4,639.0 145.6,639.1 147.8,639.5 150.0,639.1 152.2,639.3 154.4,639.4 156.6,639.4 158.8,639.7 160.9,639.3 163.1,639.8 165.3,639.8 167.5,639.8 169.7,640.0 171.9,640.1 174.1,639.8 176.2,639.9 178.4,639.8 180.6,639.8 182.8,639.6 185.0,639.5 187.2,639.7 189.4,639.4 191.6,639.6 193.8,639.5 195.9,639.2 198.1,639.2 200.3,639.0 202.5,638.7 204.7,638.8 206.9,638.3 209.1,638.1 211.2,637.5 213.4,637.6 215.6,636.9 217.8,636.8 220.0,636.8 222.2,636.5 224.4,635.7 226.6,635.1 228.8,634.9 230.9,634.3 233.1,633.9 235.3,633.0 237.5,633.0 239.7,632.6 241.9,631.4 244.1,631.0 246.2,630.5 248.4,630.2 250.6,629.0 252.8,628.9 255.0,628.1 257.2,627.3 259.4,626.8 261.6,625.4 263.8,624.6 265.9,623.7 268.1,623.0 270.3,621.6 272.5,620.3 274.7,619.4 276.9,617.8 279.1,616.4 281.2,615.1 283.4,613.8 285.6,612.9 287.8,610.4 290.0,609.2 292.2,607.4 294.4,605.7 296.6,604.5 298.8,602.6 300.9,600.7 303.1,598.6 305.3,596.6 307.5,595.0 309.7,592.9 311.9,590.8 314.1,589.1 316.2,586.4 318.4,584.3 320.6,582.6 322.8,580.0 325.0,577.8 327.2,574.9 329.4,572.9 331.6,569.8 333.8,567.8 335.9,564.9 338.1,562.0 340.3,559.5 342.5,556.2 344.7,552.8 346.9,550.5 349.1,547.0 351.2,544.1 353.4,540.4 355.6,537.4 357.8,533.3 360.0,529.6 362.2,526.0 364.4,523.2 366.6,518.4 368.8,514.7 370.9,511.0 373.1,507.8 375.3,503.9 377.5,499.3 379.7,495.8 381.9,491.4 384.1,487.5 386.2,483.0 388.4,477.9 390.6,473.8 392.8,469.1 395.0,464.8 397.2,460.1 399.4,455.3 401.6,451.0 403.8,446.0 405.9,441.6 408.1,436.5 410.3,431.7 412.5,427.5 414.7,422.8 416.9,418.2 419.1,413.2 421.2,408.1 423.4,403.6 425.6,399.0 427.8,393.4 430.0,389.2 432.2,386.0 434.4,380.8 436.6,374.9 438.8,372.0 440.9,367.8 443.1,362.9 445.3,360.6 447.5,355.9 449.7,351.7 451.9,347.2 454.1,343.6 456.2,340.0 458.4,336.0 460.6,331.6 462.8,328.4 465.0,324.7 467.2,321.2 469.4,316.9 471.6,314.1 473.8,310.5 475.9,307.2 478.1,303.8 480.3,299.5 482.5,297.5 484.7,294.2 486.9,289.7 489.1,287.2 491.2,283.5 493.4,280.6 495.6,278.3 497.8,274.9 500.0,272.6 502.2,268.5 504.4,264.8 506.6,262.7 508.8,258.5 510.9,258.5 513.1,255.3 515.3,253.3 517.5,251.2 519.7,248.8 521.9,247.7 524.1,245.9 526.2,244.8 528.4,244.1 530.6,242.0 532.8,242.8 535.0,240.2 537.2,240.7 539.4,239.3 541.6,238.7 543.8,239.8 545.9,240.1 548.1,240.5 550.3,241.5 552.5,242.3 554.7,244.4 556.9,245.5 559.1,247.8 561.2,250.8 563.4,251.9 565.6,255.4 567.8,258.7 570.0,262.4 572.2,266.1 574.4,271.1 576.6,275.8 578.8,280.4 580.9,284.5 583.1,290.9 585.3,296.1 587.5,301.1 589.7,306.1 591.9,312.0 594.1,319.7 596.2,325.9 598.4,331.7 600.6,337.8 602.8,346.2 605.0,353.0 607.2,361.4 609.4,367.9 611.6,376.2 613.8,383.7 615.9,392.1 618.1,399.2 620.3,407.6 622.5,414.5 624.7,421.7 626.9,429.8 629.1,436.9 631.2,442.9 633.4,451.0 635.6,458.2 637.8,465.3 640.0,473.1 642.2,479.0 644.4,486.3 646.6,492.6 648.8,499.5 650.9,506.6 653.1,513.4 655.3,519.7 657.5,526.1 659.7,531.8 661.9,537.4 664.1,542.1 666.2,547.1 668.4,551.3 670.6,556.1 672.8,560.3 675.0,564.0 677.2,567.1 679.4,571.8 681.6,576.7 683.8,579.7 685.9,583.3 688.1,587.2 690.3,591.0 692.5,594.2 694.7,597.3 696.9,600.1 699.1,603.4 701.2,605.9 703.4,608.9 705.6,611.6 707.8,613.7 710.0,615.4 712.2,617.3 714.4,619.0 716.6,621.2 718.8,622.8 720.9,624.3 723.1,625.7 725.3,626.6 727.5,627.7 729.7,629.5 731.9,630.2 734.1,631.8 736.2,631.9 738.4,633.0 740.6,633.8 742.8,634.9 745.0,635.7 747.2,636.2 749.4,637.1 751.6,637.3 753.8,638.1 755.9,638.6 758.1,639.2 760.3,639.7 762.5,640.4 764.7,641.4 766.9,641.0 769.1,641.6 771.2,642.1 773.4,642.4 775.6,643.0 777.8,642.9 780.0,643.4 782.2,643.4 784.4,643.9 786.6,644.0 788.8,644.2 790.9,644.3 793.1,644.3 795.3,644.6 797.5,645.0 799.7,645.0 801.9,645.3 804.1,645.1 806.2,645.4 808.4,645.5 810.6,645.2 812.8,645.5 815.0,645.7 817.2,645.4 819.4,645.6 821.6,645.5 823.8,645.6 825.9,645.5 828.1,645.4 830.3,645.4 832.5,645.5 834.7,645.4 836.9,645.4 839.1,645.6 841.2,645.4 843.4,645.4 845.6,645.4 847.8,645.6 850.0,645.2 852.2,645.6 854.4,645.6 856.6,645.7 858.8,645.4 860.9,645.4 863.1,645.5 865.3,645.5 867.5,645.7 869.7,645.5 871.9,645.4 874.1,645.3 876.2,645.5 878.4,645.5 880.6,645.6 882.8,645.5 885.0,645.7 887.2,645.6 889.4,645.4 891.6,645.4 893.8,645.4 895.9,645.5 898.1,645.4 900.3,645.6 902.5,645.6 904.7,645.6 906.9,645.5 909.1,645.4 911.2,645.5 913.4,645.4 915.6,645.5 917.8,645.4 920.0,645.6 922.2,645.2 924.4,645.6 926.6,645.6 928.8,645.5 930.9,645.5 933.1,645.5 935.3,645.7 937.5,645.7 939.7,645.5 941.9,645.7 944.1,645.4 946.2,645.5 948.4,645.6 950.6,645.3 952.8,645.5 955.0,645.4 957.2,645.6 959.4,645.4 961.6,645.3 963.8,645.3 965.9,645.5 968.1,645.5 970.3,645.5 972.5,645.4"/>
</g>
<text transform="translate(76.33,655.80) scale(0.915,1)" font-size="32.6" text-anchor="end" letter-spacing="0.8">0.0</text>
<text transform="translate(76.33,538.91) scale(0.915,1)" font-size="32.6" text-anchor="end" letter-spacing="0.8">0.1</text>
<text transform="translate(76.33,422.02) scale(0.915,1)" font-size="32.6" text-anchor="end" letter-spacing="0.8">0.2</text>
<text transform="translate(76.33,305.13) scale(0.915,1)" font-size="32.6" text-anchor="end" letter-spacing="0.8">0.3</text>
<text transform="translate(76.33,188.24) scale(0.915,1)" font-size="32.6" text-anchor="end" letter-spacing="0.8">0.4</text>
<text transform="translate(76.33,71.35) scale(0.915,1)" font-size="32.6" text-anchor="end" letter-spacing="0.8">0.5</text>
<text transform="translate(98.37,694.10) scale(0.915,1)" font-size="32.6" text-anchor="middle" letter-spacing="0.8">400</text>
<text transform="translate(317.12,694.10) scale(0.915,1)" font-size="32.6" text-anchor="middle" letter-spacing="0.8">500</text>
<text transform="translate(535.87,694.10) scale(0.915,1)" font-size="32.6" text-anchor="middle" letter-spacing="0.8">600</text>
<text transform="translate(754.62,694.10) scale(0.915,1)" font-size="32.6" text-anchor="middle" letter-spacing="0.8">700</text>
<text transform="translate(973.37,694.10) scale(0.915,1)" font-size="32.6" text-anchor="middle" letter-spacing="0.8">800</text>
<text transform="translate(535.61,745.50) scale(1,1.06)" font-size="29.6" text-anchor="middle" letter-spacing="0.62">Wavelength (nm)</text>
<text transform="translate(25.10,346.30) rotate(-90) scale(0.88,1.07)" font-size="30" text-anchor="start" letter-spacing="2.0">Abs.</text>
<text transform="translate(133.60,75.30) scale(1.025,1)" font-size="49.3" text-anchor="start">(A)</text>
<g>
<rect x="785.00" y="28.50" width="75.00" height="5.00" fill="#000000"/>
<rect x="785.00" y="69.10" width="75.00" height="5.00" fill="#ff0000"/>
<rect x="785.00" y="110.00" width="75.00" height="5.00" fill="#0000ff"/>
<rect x="785.00" y="152.25" width="75.00" height="5.00" fill="#008080"/>
<rect x="785.00" y="193.50" width="75.00" height="5.00" fill="#ff00ff"/>
<rect x="785.00" y="235.80" width="75.00" height="5.00" fill="#808000"/>
<rect x="785.00" y="276.70" width="75.00" height="5.00" fill="#000080"/>
</g>
<text transform="translate(875.00,43.10) scale(0.915,1)" font-size="32.6" text-anchor="start" letter-spacing="0.2">60min</text>
<text transform="translate(864.50,85.00) scale(0.915,1)" font-size="32.6" text-anchor="start" letter-spacing="0.7">50min</text>
<text transform="translate(864.50,125.60) scale(0.915,1)" font-size="32.6" text-anchor="start" letter-spacing="0.7">30min</text>
<text transform="translate(864.50,166.30) scale(0.915,1)" font-size="32.6" text-anchor="start" letter-spacing="0.7">20min</text>
<text transform="translate(864.50,208.75) scale(0.915,1)" font-size="32.6" text-anchor="start" letter-spacing="0.7">15min</text>
<text transform="translate(864.50,250.10) scale(0.915,1)" font-size="32.6" text-anchor="start" letter-spacing="0.7">10min</text>
<text transform="translate(864.50,292.25) scale(0.915,1)" font-size="32.6" text-anchor="start" letter-spacing="0.7">5min</text>
<g fill="#000">
<rect x="1085.00" y="4.40" width="882.80" height="5.00"/>
<rect x="1085.00" y="652.40" width="882.80" height="5.00"/>
<rect x="1085.00" y="4.40" width="5.00" height="653.00"/>
<rect x="1962.80" y="4.40" width="5.00" height="653.00"/>
<rect x="1073.00" y="646.00" width="13.00" height="5.00"/>
<rect x="1073.00" y="529.30" width="13.00" height="5.00"/>
<rect x="1073.00" y="412.60" width="13.00" height="5.00"/>
<rect x="1073.00" y="295.90" width="13.00" height="5.00"/>
<rect x="1073.00" y="179.20" width="13.00" height="5.00"/>
<rect x="1073.00" y="62.50" width="13.00" height="5.00"/>
<rect x="1080.00" y="587.65" width="6.00" height="5.00"/>
<rect x="1080.00" y="470.95" width="6.00" height="5.00"/>
<rect x="1080.00" y="354.25" width="6.00" height="5.00"/>
<rect x="1080.00" y="237.55" width="6.00" height="5.00"/>
<rect x="1080.00" y="120.85" width="6.00" height="5.00"/>
<rect x="1080.00" y="5.60" width="6.00" height="3.90"/>
<rect x="1084.40" y="656.00" width="5.00" height="12.50"/>
<rect x="1230.75" y="656.00" width="5.00" height="12.50"/>
<rect x="1377.10" y="656.00" width="5.00" height="12.50"/>
<rect x="1523.45" y="656.00" width="5.00" height="12.50"/>
<rect x="1669.80" y="656.00" width="5.00" height="12.50"/>
<rect x="1816.15" y="656.00" width="5.00" height="12.50"/>
<rect x="1962.50" y="656.00" width="5.00" height="12.50"/>
<rect x="1157.58" y="656.00" width="5.00" height="6.50"/>
<rect x="1303.93" y="656.00" width="5.00" height="6.50"/>
<rect x="1450.28" y="656.00" width="5.00" height="6.50"/>
<rect x="1596.62" y="656.00" width="5.00" height="6.50"/>
<rect x="1742.97" y="656.00" width="5.00" height="6.50"/>
<rect x="1889.32" y="656.00" width="5.00" height="6.50"/>
</g>
<clipPath id="cb"><rect x="1087.5" y="7" width="878" height="648"/></clipPath>
<g clip-path="url(#cb)" shape-rendering="crispEdges">
<line x1="1088.7" y1="638.4" x2="1158.3" y2="249.4" stroke="#000" stroke-width="5.4"/>
<line x1="1167.6" y1="232.2" x2="1225.7" y2="177.7" stroke="#000" stroke-width="5.4"/>
<line x1="1240.8" y1="163.7" x2="1298.8" y2="110.5" stroke="#000" stroke-width="5.4"/>
<line x1="1316.4" y1="101.1" x2="1369.6" y2="88.5" stroke="#000" stroke-width="5.4"/>
<line x1="1389.9" y1="86.6" x2="1515.7" y2="92.1" stroke="#000" stroke-width="5.4"/>
<line x1="1536.2" y1="91.6" x2="1808.4" y2="66.0" stroke="#000" stroke-width="5.4"/>
<line x1="1828.6" y1="67.5" x2="1955.0" y2="99.4" stroke="#000" stroke-width="5.4"/>
<rect x="1079.90" y="642.00" width="14.00" height="13.00" fill="#000"/>
<rect x="1153.08" y="232.73" width="14.00" height="13.00" fill="#000"/>
<rect x="1226.25" y="164.11" width="14.00" height="13.00" fill="#000"/>
<rect x="1299.43" y="97.01" width="14.00" height="13.00" fill="#000"/>
<rect x="1372.60" y="79.62" width="14.00" height="13.00" fill="#000"/>
<rect x="1518.95" y="86.10" width="14.00" height="13.00" fill="#000"/>
<rect x="1811.65" y="58.50" width="14.00" height="13.00" fill="#000"/>
<rect x="1958.00" y="95.38" width="14.00" height="13.00" fill="#000"/>
</g>
<polygon points="1372.5,24.1 1377.3,36.6 1393.0,36.6 1380.3,44.3 1385.2,56.9 1372.5,49.1 1359.8,56.9 1364.7,44.3 1352.0,36.6 1367.7,36.6" fill="#ff0000"/>
<text transform="translate(1065.33,656.90) scale(0.915,1)" font-size="32.6" text-anchor="end" letter-spacing="0.8">0.0</text>
<text transform="translate(1065.33,540.20) scale(0.915,1)" font-size="32.6" text-anchor="end" letter-spacing="0.8">0.2</text>
<text transform="translate(1065.33,423.50) scale(0.915,1)" font-size="32.6" text-anchor="end" letter-spacing="0.8">0.4</text>
<text transform="translate(1065.33,306.80) scale(0.915,1)" font-size="32.6" text-anchor="end" letter-spacing="0.8">0.6</text>
<text transform="translate(1065.33,190.10) scale(0.915,1)" font-size="32.6" text-anchor="end" letter-spacing="0.8">0.8</text>
<text transform="translate(1065.33,73.40) scale(0.915,1)" font-size="32.6" text-anchor="end" letter-spacing="0.8">1.0</text>
<text transform="translate(1087.67,699.60) scale(0.915,1)" font-size="32.6" text-anchor="middle" letter-spacing="0.8">0</text>
<text transform="translate(1234.02,699.60) scale(0.915,1)" font-size="32.6" text-anchor="middle" letter-spacing="0.8">10</text>
<text transform="translate(1380.37,699.60) scale(0.915,1)" font-size="32.6" text-anchor="middle" letter-spacing="0.8">20</text>
<text transform="translate(1526.72,699.60) scale(0.915,1)" font-size="32.6" text-anchor="middle" letter-spacing="0.8">30</text>
<text transform="translate(1673.07,699.60) scale(0.915,1)" font-size="32.6" text-anchor="middle" letter-spacing="0.8">40</text>
<text transform="translate(1819.42,699.60) scale(0.915,1)" font-size="32.6" text-anchor="middle" letter-spacing="0.8">50</text>
<text transform="translate(1965.77,699.60) scale(0.915,1)" font-size="32.6" text-anchor="middle" letter-spacing="0.8">60</text>
<text transform="translate(1525.52,754.00) scale(1,1.06)" font-size="29.6" text-anchor="middle" letter-spacing="0.45">Time (min)</text>
<text transform="translate(1024.00,362.70) rotate(-90) scale(0.85,1.04)" font-size="30" text-anchor="start" letter-spacing="1.9">I/I</text>
<text transform="translate(1036.20,329.00) rotate(-90) scale(0.95,1.0)" font-size="19" text-anchor="start">0</text>
<text transform="translate(1131.60,89.90) scale(1.03,1)" font-size="50" text-anchor="start">(B)</text>
</g>
</svg>
</body></html>
